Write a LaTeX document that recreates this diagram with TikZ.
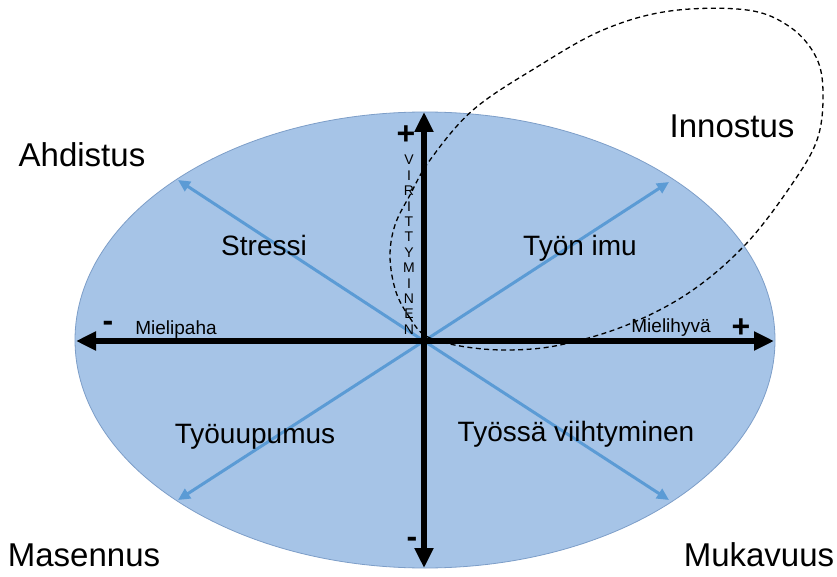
\documentclass[tikz,border=0pt]{standalone}
\usepackage{fontspec}
\setmainfont{Liberation Sans}
\usetikzlibrary{arrows.meta}
\definecolor{discfill}{RGB}{166,196,231}
\definecolor{discline}{RGB}{125,158,200}
\definecolor{raycol}{RGB}{91,155,213}
\tikzset{
  axis/.style={line width=6pt, {Triangle[length=20pt,width=18pt]}-{Triangle[length=20pt,width=18pt]}},
  diag/.style={line width=3pt, draw=raycol, -{Triangle[length=12pt,width=11pt]}},
  corner/.style={font=\fontsize{33}{40}\selectfont, inner sep=0pt, anchor=base},
  quad/.style={font=\fontsize{28}{34}\selectfont, inner sep=0pt, anchor=base},
  axlabel/.style={font=\fontsize{19}{23}\selectfont, inner sep=0pt, anchor=base},
  sign/.style={font=\bfseries\fontsize{32}{36}\selectfont, inner sep=0pt},
  loop/.style={dash pattern=on 5pt off 3.5pt, line width=1.3pt},
}
\begin{document}
\begin{tikzpicture}[x=1pt, y=-1pt]
  \useasboundingbox (0,0) rectangle (837,577);
  % the disc
  \fill[discfill, draw=discline, line width=0.8pt] (425,340) ellipse [x radius=350pt, y radius=228pt];

  \coordinate (o)  at (424,341);
  \coordinate (nw) at (178,180);
  \coordinate (ne) at (669,182);
  \coordinate (sw) at (178,500);
  \coordinate (se) at (669,500);
  \coordinate (l)  at (76,341);
  \coordinate (r)  at (774,341);
  \coordinate (t)  at (424,112);
  \coordinate (b)  at (424,568);

  \draw[diag] (o) -- (nw);
  \draw[diag] (o) -- (ne);
  \draw[diag] (o) -- (sw);
  \draw[diag] (o) -- (se);

  \draw[axis] (l) -- (r);
  \draw[axis] (b) -- (t);

  % innostus loop
  \draw[loop] plot[smooth cycle, tension=0.6] coordinates {
    (426,336) (410,318) (396,292) (390,257) (395,225) (410,195) (430,160)
    (473,110) (537,67) (603,30) (670,11) (747,10) (790,27) (816,57)
    (823,93) (817,140) (790,187) (745,245) (690,292) (627,325)
    (560,345) (507,350) (460,346)};

  \node[corner] (ahd)  at (82,167)  {Ahdistus};
  \node[corner] (inno) at (732,138) {Innostus};
  \node[corner] (mas)  at (84,566)  {Masennus};
  \node[corner] (muka) at (759,566) {Mukavuus};

  \node[quad] (stressi)  at (264,255) {Stressi};
  \node[quad] (imu)      at (580,255) {Työn imu};
  \node[quad] (uupumus)  at (255,443) {Työuupumus};
  \node[quad] (viihty)   at (576,441) {Työssä viihtyminen};

  \node[axlabel] (paha) at (176,334) {Mielipaha};
  \node[axlabel] (hyva) at (671,332) {Mielihyvä};
  \node[sign] (minusl) at (108,326) {-};
  \node[sign] (plusr)  at (741,328) {+};
  \node[sign] (plust)  at (406,135) {+};
  \node[sign] (minusb) at (412,542) {-};

  \node[font=\fontsize{14}{15.4}\selectfont, align=center, inner sep=0pt, anchor=north]
    (virit) at (409,155) {V\\I\\R\\I\\T\\T\\Y\\M\\I\\N\\E\\N};
\end{tikzpicture}
\end{document}
